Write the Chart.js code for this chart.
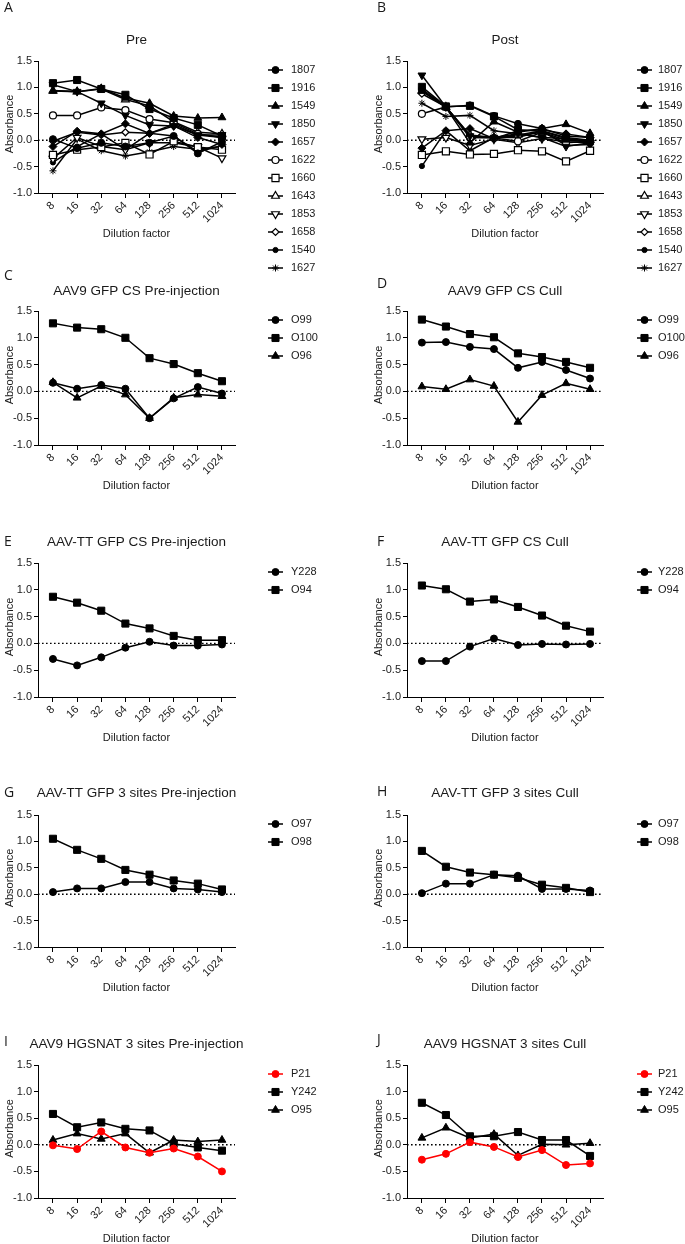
<!DOCTYPE html>
<html>
<head>
<meta charset="utf-8">
<script src="https://cdn.jsdelivr.net/npm/chart.js"></script>
<style>
  body { margin: 0; background: #fff; }
  #page { position: relative; width: 685px; height: 1244px; overflow: hidden; background: #fff; }
  #page canvas { position: absolute; }
</style>
</head>
<body>
<div id="page"></div>
<script>
// x categories and y ticks
const dilutions = ["8", "16", "32", "64", "128", "256", "512", "1024"];
const yTicks = [-1.0, -0.5, 0.0, 0.5, 1.0, 1.5];

// A / B: individual sera
const serumIds = ["1807", "1916", "1549", "1850", "1657", "1622", "1660", "1643", "1853", "1658", "1540", "1627"];
const preValues = [
  [0.02, -0.15, -0.05, -0.12, -0.05, 0.08, -0.25, -0.03],
  [1.08, 1.14, 0.97, 0.86, 0.59, 0.42, 0.29, 0.08],
  [0.93, 0.92, 0.98, 0.80, 0.70, 0.46, 0.42, 0.43],
  [1.05, 0.92, 0.70, 0.47, 0.29, 0.27, 0.10, 0.10],
  [-0.12, 0.17, 0.12, 0.31, 0.13, 0.27, 0.05, -0.08],
  [0.47, 0.47, 0.62, 0.57, 0.40, 0.33, 0.12, 0.05],
  [-0.28, -0.18, -0.13, -0.05, -0.27, -0.02, -0.13, -0.18],
  [0.94, 0.92, 0.97, 0.77, 0.65, 0.35, 0.15, 0.12],
  [-0.35, 0.05, -0.12, -0.18, -0.05, -0.05, -0.13, -0.34],
  [-0.02, 0.15, 0.10, 0.15, 0.13, 0.30, 0.10, 0.05],
  [-0.42, -0.12, 0.12, -0.18, 0.13, 0.08, -0.22, -0.10],
  [-0.58, 0.02, -0.20, -0.30, -0.22, -0.12, -0.17, -0.12]
];
const postValues = [
  [0.97, 0.63, 0.66, 0.46, 0.31, 0.22, 0.08, 0.05],
  [1.01, 0.64, 0.65, 0.45, 0.20, 0.17, 0.03, -0.02],
  [0.93, 0.62, -0.05, 0.35, 0.15, 0.22, 0.30, 0.13],
  [1.23, 0.63, 0.08, 0.05, 0.12, 0.05, -0.12, -0.05],
  [-0.15, 0.18, 0.22, 0.03, 0.18, 0.20, 0.12, 0.05],
  [0.50, 0.63, 0.05, 0.04, -0.02, 0.15, -0.05, -0.02],
  [-0.28, -0.21, -0.27, -0.26, -0.19, -0.21, -0.40, -0.20],
  [0.94, 0.63, 0.10, 0.05, 0.10, 0.18, 0.05, 0.00],
  [0.02, 0.05, -0.10, 0.02, -0.05, 0.03, -0.03, -0.05],
  [0.88, 0.63, 0.08, 0.05, 0.08, 0.15, 0.00, -0.03],
  [-0.49, 0.18, -0.20, 0.05, 0.05, 0.18, -0.10, -0.08],
  [0.70, 0.45, 0.47, 0.18, 0.12, 0.05, 0.03, -0.03]
];

// C / D: AAV9 GFP CS
const aav9CsIds = ["O99", "O100", "O96"];
const aav9CsPre = [
  [0.16, 0.05, 0.12, 0.05, -0.50, -0.13, 0.08, -0.04],
  [1.27, 1.19, 1.16, 1.00, 0.62, 0.51, 0.34, 0.19],
  [0.17, -0.12, 0.10, -0.06, -0.50, -0.12, -0.06, -0.09]
];
const aav9CsCull = [
  [0.91, 0.92, 0.83, 0.79, 0.44, 0.55, 0.40, 0.24],
  [1.34, 1.21, 1.07, 1.01, 0.71, 0.64, 0.55, 0.44],
  [0.09, 0.04, 0.22, 0.10, -0.57, -0.07, 0.15, 0.04]
];

// E / F: AAV-TT GFP CS
const ttCsIds = ["Y228", "O94"];
const ttCsPre = [
  [-0.29, -0.41, -0.26, -0.08, 0.03, -0.04, -0.04, -0.02],
  [0.87, 0.76, 0.61, 0.37, 0.28, 0.14, 0.06, 0.06]
];
const ttCsCull = [
  [-0.33, -0.33, -0.06, 0.09, -0.03, -0.01, -0.02, -0.01],
  [1.08, 1.01, 0.78, 0.82, 0.68, 0.52, 0.33, 0.22]
];

// G / H: AAV-TT GFP 3 sites
const tt3Ids = ["O97", "O98"];
const tt3Pre = [
  [0.04, 0.11, 0.11, 0.23, 0.23, 0.11, 0.09, 0.04],
  [1.05, 0.84, 0.67, 0.46, 0.37, 0.26, 0.20, 0.09]
];
const tt3Cull = [
  [0.02, 0.20, 0.20, 0.37, 0.35, 0.10, 0.10, 0.07],
  [0.82, 0.52, 0.41, 0.37, 0.31, 0.18, 0.12, 0.04]
];

// I / J: AAV9 HGSNAT 3 sites
const hgIds = ["P21", "Y242", "O95"];
const hgPre = [
  [-0.01, -0.08, 0.25, -0.05, -0.15, -0.07, -0.22, -0.50],
  [0.58, 0.33, 0.42, 0.30, 0.27, 0.02, -0.05, -0.11],
  [0.09, 0.21, 0.11, 0.21, -0.15, 0.09, 0.06, 0.09]
];
const hgCull = [
  [-0.28, -0.17, 0.05, -0.04, -0.23, -0.10, -0.38, -0.35],
  [0.79, 0.56, 0.16, 0.16, 0.24, 0.09, 0.09, -0.21],
  [0.13, 0.32, 0.13, 0.20, -0.20, 0.01, 0.00, 0.03]
];

// marker look for each series
const markers = {
  "1807": { style: "circle", r: 3.5 },
  "1916": { style: "rect", r: 5 },
  "1549": { style: "triangle", r: 4.5 },
  "1850": { style: "triangle", r: 4.5, rot: 180 },
  "1657": { style: "rectRot", r: 4 },
  "1622": { style: "circle", r: 3.5, open: true },
  "1660": { style: "rect", r: 5, open: true },
  "1643": { style: "triangle", r: 4.5, open: true },
  "1853": { style: "triangle", r: 4.5, rot: 180, open: true },
  "1658": { style: "rectRot", r: 3.5, open: true },
  "1540": { style: "circle", r: 2.6 },
  "1627": { style: "star", r: 3.5 },
  "O99": { style: "circle", r: 3.5 },
  "O100": { style: "rect", r: 5 },
  "O96": { style: "triangle", r: 4.5 },
  "Y228": { style: "circle", r: 3.5 },
  "O94": { style: "rect", r: 5 },
  "O97": { style: "circle", r: 3.5 },
  "O98": { style: "rect", r: 5 },
  "P21": { style: "circle", r: 3.5, color: "#ff0000" },
  "Y242": { style: "rect", r: 5 },
  "O95": { style: "triangle", r: 4.5 }
};

const panels = [
  { letter: "A", title: "Pre", col: 0, row: 0, ids: serumIds, values: preValues },
  { letter: "B", title: "Post", col: 1, row: 0, ids: serumIds, values: postValues },
  { letter: "C", title: "AAV9 GFP CS Pre-injection", col: 0, row: 1, ids: aav9CsIds, values: aav9CsPre },
  { letter: "D", title: "AAV9 GFP CS Cull", col: 1, row: 1, ids: aav9CsIds, values: aav9CsCull },
  { letter: "E", title: "AAV-TT GFP CS Pre-injection", col: 0, row: 2, ids: ttCsIds, values: ttCsPre },
  { letter: "F", title: "AAV-TT GFP CS Cull", col: 1, row: 2, ids: ttCsIds, values: ttCsCull },
  { letter: "G", title: "AAV-TT GFP 3 sites Pre-injection", col: 0, row: 3, ids: tt3Ids, values: tt3Pre },
  { letter: "H", title: "AAV-TT GFP 3 sites Cull", col: 1, row: 3, ids: tt3Ids, values: tt3Cull },
  { letter: "I", title: "AAV9 HGSNAT 3 sites Pre-injection", col: 0, row: 4, ids: hgIds, values: hgPre },
  { letter: "J", title: "AAV9 HGSNAT 3 sites Cull", col: 1, row: 4, ids: hgIds, values: hgCull }
];

// page geometry
const cols = [
  { x: 0, w: 340, plotLeft: 38, plotRight: 235, legLine: 268, legText: 291, letterX: 4 },
  { x: 340, w: 345, plotLeft: 407, plotRight: 603, legLine: 637, legText: 658, letterX: 377 }
];
const rows = [
  { top: 61, bottom: 193, title: 40, letterY: [8, 8] },
  { top: 311, bottom: 445, title: 291, letterY: [276, 284] },
  { top: 563, bottom: 697, title: 542, letterY: [542, 542] },
  { top: 815, bottom: 947, title: 793, letterY: [793, 792] },
  { top: 1065, bottom: 1198, title: 1044, letterY: [1042, 1040] }
];
const FONT = "'Liberation Sans', Arial, sans-serif";
const INK = "#1a1a1a";
const Y_AXIS_W = 38, X_AXIS_H = 50;

function decorPlugin(panel, col, row, cTop) {
  const lx = v => v - col.x;
  const ly = v => v - cTop;
  return {
    id: "decor" + panel.letter,
    beforeDatasetsDraw(chart) {
      const { ctx, chartArea, scales } = chart;
      const y0 = scales.y.getPixelForValue(0);
      ctx.save();
      ctx.strokeStyle = "#000";
      ctx.lineWidth = 1.4;
      ctx.setLineDash([1.6, 2.4]);
      ctx.beginPath();
      ctx.moveTo(chartArea.left, y0);
      ctx.lineTo(chartArea.right, y0);
      ctx.stroke();
      ctx.restore();
    },
    afterDraw(chart) {
      const { ctx, chartArea } = chart;
      const midX = (chartArea.left + chartArea.right) / 2;
      ctx.save();
      ctx.fillStyle = INK;
      ctx.textBaseline = "middle";
      // panel letter
      ctx.font = "14px 'Open Sans', sans-serif";
      ctx.textAlign = "left";
      ctx.fillText(panel.letter, lx(col.letterX), ly(row.letterY[panel.col]));
      // title
      ctx.font = "13.5px " + FONT;
      ctx.textAlign = "center";
      ctx.fillText(panel.title, midX, ly(row.title));
      // axis titles
      ctx.font = "11px " + FONT;
      ctx.fillText("Dilution factor", midX, chartArea.bottom + 41);
      ctx.save();
      ctx.translate(chartArea.left - 28, (chartArea.top + chartArea.bottom) / 2 - 3);
      ctx.rotate(-Math.PI / 2);
      ctx.fillText("Absorbance", 0, 0);
      ctx.restore();
      // legend
      chart.data.datasets.forEach((ds, k) => {
        const y = chartArea.top + 9 + k * 18;
        const x0 = lx(col.legLine);
        ctx.strokeStyle = ds.borderColor;
        ctx.lineWidth = 1.5;
        ctx.beginPath();
        ctx.moveTo(x0, y);
        ctx.lineTo(x0 + 15, y);
        ctx.stroke();
        ctx.fillStyle = ds.pointBackgroundColor;
        ctx.strokeStyle = ds.pointBorderColor;
        ctx.lineWidth = ds.pointBorderWidth;
        Chart.helpers.drawPoint(ctx, {
          pointStyle: ds.pointStyle,
          radius: ds.pointRadius,
          rotation: ds.pointRotation,
          borderWidth: ds.pointBorderWidth
        }, x0 + 7.5, y);
        ctx.fillStyle = INK;
        ctx.font = "11px " + FONT;
        ctx.textAlign = "left";
        ctx.fillText(ds.label, lx(col.legText), y);
      });
      ctx.restore();
    }
  };
}

const page = document.getElementById("page");

panels.forEach(panel => {
  const col = cols[panel.col];
  const row = rows[panel.row];
  const cTop = row.top - 61;
  const cH = panel.row === 0 ? 290 : 250;

  const canvas = document.createElement("canvas");
  canvas.width = col.w;
  canvas.height = cH;
  canvas.style.left = col.x + "px";
  canvas.style.top = cTop + "px";
  canvas.style.width = col.w + "px";
  canvas.style.height = cH + "px";
  page.appendChild(canvas);

  const datasets = panel.ids.map((id, k) => {
    const m = markers[id];
    const color = m.color || "#000";
    return {
      label: id,
      data: panel.values[k].map((v, i) => ({ x: i, y: v })),
      borderColor: color,
      borderWidth: 1.5,
      pointStyle: m.style,
      pointRadius: m.r,
      pointRotation: m.rot || 0,
      pointBackgroundColor: m.open ? "#fff" : color,
      pointBorderColor: color,
      pointBorderWidth: m.open ? 1.2 : 1,
      tension: 0,
      fill: false,
      clip: false
    };
  });

  const tickFont = { family: FONT, size: 11 };

  new Chart(canvas.getContext("2d"), {
    type: "line",
    data: { datasets },
    options: {
      responsive: false,
      animation: false,
      events: [],
      layout: {
        padding: {
          top: row.top - cTop,
          bottom: cH - (row.bottom - cTop) - X_AXIS_H,
          left: col.plotLeft - col.x - Y_AXIS_W,
          right: col.x + col.w - col.plotRight
        }
      },
      plugins: {
        legend: { display: false },
        tooltip: { enabled: false },
        title: { display: false }
      },
      scales: {
        x: {
          type: "linear",
          min: -0.62,
          max: 7.54,
          afterBuildTicks: s => { s.ticks = dilutions.map((d, i) => ({ value: i })); },
          afterFit: s => { s.height = X_AXIS_H; },
          ticks: {
            callback: v => dilutions[v],
            minRotation: 45,
            maxRotation: 45,
            autoSkip: false,
            padding: 1,
            font: tickFont,
            color: INK
          },
          grid: { drawOnChartArea: false, tickLength: 5, color: "#000", lineWidth: 1 },
          border: { color: "#000", width: 1 }
        },
        y: {
          type: "linear",
          min: -1,
          max: 1.5,
          afterBuildTicks: s => { s.ticks = yTicks.map(v => ({ value: v })); },
          afterFit: s => { s.width = Y_AXIS_W; },
          ticks: {
            callback: v => v.toFixed(1),
            padding: 2,
            font: tickFont,
            color: INK
          },
          grid: { drawOnChartArea: false, tickLength: 4, color: "#000", lineWidth: 1 },
          border: { color: "#000", width: 1 }
        }
      }
    },
    plugins: [decorPlugin(panel, col, row, cTop)]
  });
});
</script>
</body>
</html>
